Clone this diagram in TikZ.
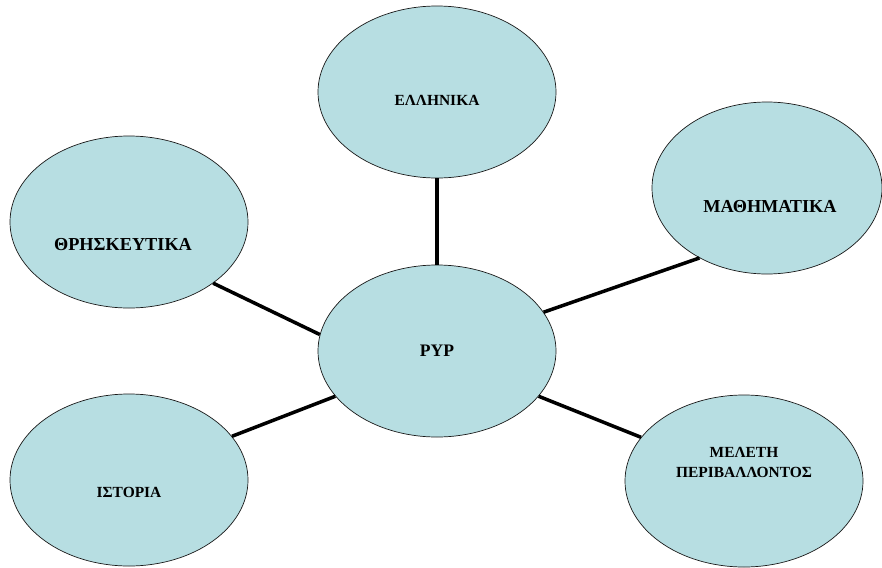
\documentclass[tikz,border=0pt]{standalone}
\usepackage{fontspec}
\setmainfont{Liberation Serif}
\usetikzlibrary{positioning,shapes}
\definecolor{topicfill}{RGB}{183,222,226}

\begin{document}
\begin{tikzpicture}[
    topic/.style={ellipse, draw=black!90, line width=0.5pt, fill=topicfill, minimum width=5.95cm, minimum height=4.3cm, inner sep=0pt},
    topictext/.style={font=\bfseries\fontsize{11}{14.2}\selectfont, align=center, inner sep=0pt},
    bigtext/.style={topictext, font=\bfseries\fontsize{13}{15}\selectfont},
    link/.style={line width=2.5pt}
]
\useasboundingbox (0,0) rectangle (22.05,-14.2);

\node[topic] (pyp) at (10.925,-8.775) {};
\node[topic] (ell) at (10.925,-2.3) {};
\node[topic, minimum width=5.75cm] (math) at (19.175,-4.7) {};
\node[topic] (thr) at (3.225,-5.55) {};
\node[topic] (ist) at (3.225,-12.0) {};
\node[topic] (mel) at (18.6,-12.025) {};

\node[bigtext, font=\bfseries\fontsize{12.5}{15}\selectfont] (pyp text) at (pyp) {PYP};
\node[topictext] (ell text) at ([yshift=-0.2cm]ell.center) {ΕΛΛΗΝΙΚΑ};
\node[bigtext] (math text) at ([xshift=0.075cm,yshift=-0.475cm]math.center) {ΜΑΘΗΜΑΤΙΚΑ};
\node[bigtext] (thr text) at ([xshift=-0.15cm,yshift=-0.575cm]thr.center) {ΘΡΗΣΚΕΥΤΙΚΑ};
\node[topictext] (ist text) at ([yshift=-0.3cm]ist.center) {ΙΣΤΟΡΙΑ};
\node[topictext] (mel text) at ([yshift=0.475cm]mel.center) {ΜΕΛΕΤΗ\\ΠΕΡΙΒΑΛΛΟΝΤΟΣ};

\draw[link] (pyp.north) -- (ell.south);
\draw[link] (pyp.20.7) -- (math.226);
\draw[link] (pyp.172) -- (thr.-36.6);
\draw[link] (pyp.204) -- (ist.23);
\draw[link] (pyp.-24) -- (mel.157);
\end{tikzpicture}
\end{document}
